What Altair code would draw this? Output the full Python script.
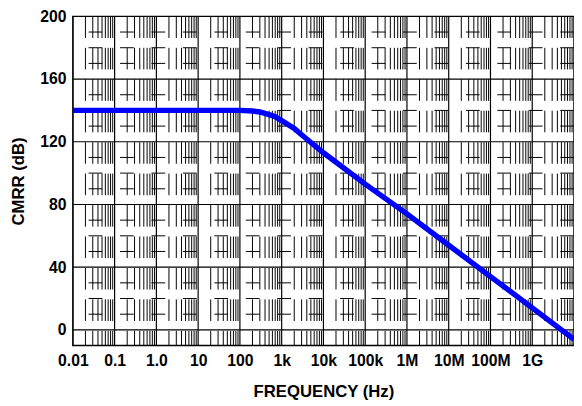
import altair as alt
import pandas as pd

# CMRR curve
freq_hz = [0.01, 0.1, 1, 10, 100, 200, 300, 500, 700, 1e3, 2e3, 3e3, 5e3,
           1e4, 1e5, 1e6, 1e7, 1e8, 1e9, 1e10]
cmrr_db = [140, 140, 140, 140, 140, 139.6, 139, 137.3, 136, 133.5, 128.5,
           124.5, 119.5, 113, 93, 74, 54, 34, 14, -6]

# axis ticks and labels
x_tick_values = [0.01, 0.1, 1, 10, 100, 1e3, 1e4, 1e5, 1e6, 1e7, 1e8, 1e9]
x_tick_labels = ["0.01", "0.1", "1.0", "10", "100", "1k", "10k", "100k",
                 "1M", "10M", "100M", "1G"]
y_tick_values = [0, 40, 80, 120, 160, 200]

# grid positions
x_major_grid = x_tick_values
x_minor_grid = [k * 10.0 ** e for e in range(-2, 10) for k in range(2, 10)]
y_major_grid = [0, 40, 80, 120, 160]
y_minor_grid = [v for v in range(10, 200, 10) if v % 40 != 0]

X_DOMAIN = [0.01, 1e10]
Y_DOMAIN = [-10, 200]

xs = alt.Scale(type="log", domain=X_DOMAIN, nice=False)
ys = alt.Scale(domain=Y_DOMAIN, nice=False, zero=False)

labels_js = "[" + ",".join("'" + s + "'" for s in x_tick_labels) + "]"

x_axis = alt.Axis(values=x_tick_values, ticks=False, domain=False, grid=False,
                  labelExpr=labels_js + "[round(log(datum.value)/LN10)+2]",
                  labelFlush=False, labelOverlap=False, labelBound=False,
                  labelPadding=7, titlePadding=16)
y_axis = alt.Axis(values=y_tick_values, ticks=False, domain=False, grid=False,
                  labelFlush=False, labelOverlap=False,
                  labelPadding=7, titlePadding=13)
X_TITLE = "FREQUENCY (Hz)"
Y_TITLE = "CMRR (dB)"

line_df = pd.DataFrame({"f": freq_hz, "db": cmrr_db})

vmin = alt.Chart(pd.DataFrame({"f": x_minor_grid})).mark_rule(
    color="black", strokeWidth=1, strokeDash=[22, 10], clip=True
).encode(x=alt.X("f:Q", scale=xs, axis=x_axis, title=X_TITLE))

vmaj = alt.Chart(pd.DataFrame({"f": x_major_grid})).mark_rule(
    color="black", strokeWidth=1.2, clip=True
).encode(x=alt.X("f:Q", scale=xs, axis=x_axis, title=X_TITLE))

hmin = alt.Chart(pd.DataFrame({"db": y_minor_grid})).mark_rule(
    color="black", strokeWidth=1, strokeDash=[14, 18], clip=True
).encode(y=alt.Y("db:Q", scale=ys, axis=y_axis, title=Y_TITLE))

hmaj = alt.Chart(pd.DataFrame({"db": y_major_grid})).mark_rule(
    color="black", strokeWidth=1.2, clip=True
).encode(y=alt.Y("db:Q", scale=ys, axis=y_axis, title=Y_TITLE))

line = alt.Chart(line_df).mark_line(
    color="#0000ff", strokeWidth=5.5, clip=True
).encode(
    x=alt.X("f:Q", scale=xs, axis=x_axis, title=X_TITLE),
    y=alt.Y("db:Q", scale=ys, axis=y_axis, title=Y_TITLE),
)

chart = alt.layer(vmin, vmaj, hmin, hmaj, line).properties(
    width=510, height=335,
    autosize=alt.AutoSizeParams(type="none"),
    padding={"left": 66, "top": 5, "right": 0, "bottom": 58},
).configure_view(
    stroke="black", strokeWidth=1.5
).configure_axis(
    labelFont="Liberation Sans", labelFontWeight="bold", labelFontSize=16,
    labelColor="black", titleFont="Liberation Sans", titleFontWeight="bold",
    titleFontSize=17, titleColor="black"
)

chart.save("out.html", embed_options={"renderer": "svg", "actions": False})
